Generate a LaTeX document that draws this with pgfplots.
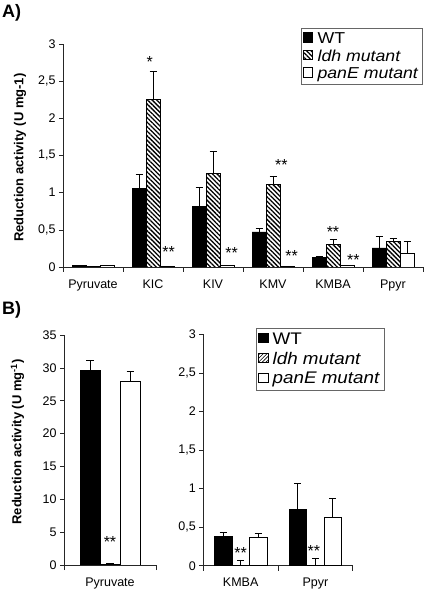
\documentclass[border=0pt]{standalone}
\usepackage{fontspec}
\setmainfont{Liberation Sans}
\newfontfamily\legfont{Liberation Sans}[FakeStretch=1.12]
\usepackage{pgfplots}
\usepackage{pgfplotstable}
\pgfplotsset{compat=1.18}
\usetikzlibrary{patterns,patterns.meta}

\newcommand{\fs}[1]{\fontsize{#1}{#1}\selectfont}

% Panel A data
\pgfplotstableread{
x y e
0 0.02 0
1 1.057 0.19
2 0.81 0.256
3 0.471 0.045
4 0.13 0.012
5 0.256 0.157
}\Awt
\pgfplotstableread{
x y e
0 0.005 0
1 2.249 0.387
2 1.259 0.293
3 1.111 0.103
4 0.305 0.064
5 0.346 0.044
}\Aldh
\pgfplotstableread{
x y e
0 0.02 0
1 0.01 0
2 0.02 0
3 0.005 0
4 0.02 0
5 0.18 0.166
}\Apan

% Panel B data
\pgfplotstableread{
x y e
0 29.6 1.5
}\BLwt
\pgfplotstableread{
x y e
0 0.1 0.15
}\BLldh
\pgfplotstableread{
x y e
0 27.9 1.5
}\BLpan
\pgfplotstableread{
x y e
0 0.385 0.045
1 0.735 0.33
}\BRwt
\pgfplotstableread{
x y e
0 0 0.074
1 0 0.096
}\BRldh
\pgfplotstableread{
x y e
0 0.368 0.047
1 0.632 0.246
}\BRpan

\tikzset{star/.style={font=\fs{16bp}, anchor=north, inner sep=0pt}}

\pgfplotsset{
  exbase/.style={
    scale only axis,
    anchor=south west,
    axis lines*=left,
    axis line style={black!85, line width=0.6bp},
    ybar=0pt,
    ymin=0,
    tick align=outside,
    major tick length=4bp,
    minor tick length=5bp,
    tick style={black!85, line width=0.6bp},
    major x tick style={draw=none},
    /pgf/number format/assume math mode=true,
    tick label style={font=\fs{12.5bp}},
    xticklabel style={yshift=-5bp},
    ylabel style={font=\bfseries\fs{13bp}, anchor=center},
    legend cell align=left,
    legend image code/.code={\draw[##1,line width=0.6bp] (0bp,-3.5bp) rectangle (9.5bp,6bp);},
    error bars/y dir=plus,
    error bars/y explicit,
    error bars/error bar style={black, line width=0.8bp},
    error bars/error mark options={rotate=90, mark size=3.5bp, line width=0.8bp, black},
  },
  wtbar/.style={fill=black, draw=black, line width=0.7bp},
  panbar/.style={fill=white, draw=black, line width=0.7bp},
}

\begin{document}
\begin{tikzpicture}
\path (0,0) rectangle (425bp,595bp);

\node[anchor=base west, font=\bfseries\fs{18bp}, inner sep=0pt] at (2bp,577bp) {A)};
\node[anchor=base west, font=\bfseries\fs{18bp}, inner sep=0pt] at (2bp,280bp) {B)};

% ---------------- Panel A ----------------
\begin{axis}[exbase,
  at={(63bp,328bp)}, width=360bp, height=223bp,
  xmin=-0.5, xmax=5.5, ymax=3,
  bar width=14bp,
  ytick={0,0.5,...,3},
  yticklabels={0,{0,5},1,{1,5},2,{2,5},3},
  xtick={0,...,5},
  xticklabels={Pyruvate,KIC,KIV,KMV,KMBA,Ppyr},
  minor xtick={-0.5,0.5,...,5.5},
  ylabel={Reduction activity (U mg-1)},
  ylabel style={at={(axis description cs:-0.119,0.49)}},
  legend style={at={(0.9995,1.072)}, anchor=north east, font=\legfont\fs{15.8bp},
    draw=black!60, line width=0.6bp, inner xsep=2bp, inner ysep=2bp,
    row sep=1bp},
]
\addplot[wtbar] table[x=x,y=y,y error=e] {\Awt};
\addplot[fill=white, draw=black, line width=0.7bp,
  postaction={pattern={Lines[angle=-45,distance=3.2bp,line width=1.3bp]}}]
  table[x=x,y=y,y error=e] {\Aldh};
\addplot[panbar] table[x=x,y=y,y error=e] {\Apan};
\legend{\hspace{2.5bp}WT,\hspace{2.5bp}\textit{ldh mutant},\hspace{2.5bp}\textit{panE mutant}}
\node[star] at (axis cs:0.946,2.83) {*};
\node[star] at (axis cs:1.26,0.273) {**};
\node[star] at (axis cs:2.31,0.265) {**};
\node[star] at (axis cs:3.14,1.449) {**};
\node[star] at (axis cs:3.31,0.22) {**};
\node[star] at (axis cs:4.0,0.542) {**};
\node[star] at (axis cs:4.34,0.175) {**};
\end{axis}

% ---------------- Panel B left ----------------
\begin{axis}[exbase,
  at={(64bp,30bp)}, width=92bp, height=230bp,
  xmin=-0.5, xmax=0.5, ymax=35,
  bar width=20bp,
  ytick={0,5,...,35},
  yticklabels={0,5,10,15,20,25,30,35},
  xtick={0},
  xticklabels={Pyruvate},
  minor xtick={-0.5,0.5},
  ylabel={Reduction activity (U mg\textsuperscript{-1})},
  ylabel style={at={(axis description cs:-0.505,0.535)}},
]
\addplot[wtbar] table[x=x,y=y,y error=e] {\BLwt};
\addplot[fill=white, draw=black, line width=0.7bp,
  postaction={pattern={Lines[angle=45,distance=2.6bp,line width=0.6bp]}}]
  table[x=x,y=y,y error=e] {\BLldh};
\addplot[panbar] table[x=x,y=y,y error=e] {\BLpan};
\node[star] at (axis cs:0,4.41) {**};
\end{axis}

% ---------------- Panel B right ----------------
\begin{axis}[exbase,
  at={(203.3bp,29.3bp)}, width=149.4bp, height=231.3bp,
  xmin=-0.5, xmax=1.5, ymax=3,
  bar width=17.5bp,
  ytick={0,0.5,...,3},
  yticklabels={0,{0,5},1,{1,5},2,{2,5},3},
  xtick={0,1},
  xticklabels={KMBA,Ppyr},
  minor xtick={-0.5,0.5,1.5},
  legend style={at={(0.351,1.028)}, anchor=north west, font=\legfont\fs{16.8bp},
    draw=black!60, line width=0.6bp, inner xsep=2bp, inner ysep=2.5bp,
    row sep=2.5bp},
]
\addplot[wtbar] table[x=x,y=y,y error=e] {\BRwt};
\addplot[fill=white, draw=black, line width=0.7bp,
  postaction={pattern={Lines[angle=45,distance=2.6bp,line width=0.6bp]}}]
  table[x=x,y=y,y error=e] {\BRldh};
\addplot[panbar] table[x=x,y=y,y error=e] {\BRpan};
\legend{\hspace{2.5bp}WT,\hspace{2.5bp}\textit{ldh mutant},\hspace{2.5bp}\textit{panE mutant}}
\node[star] at (axis cs:0,0.233) {**};
\node[star] at (axis cs:0.98,0.268) {**};
\end{axis}
\end{tikzpicture}
\end{document}
